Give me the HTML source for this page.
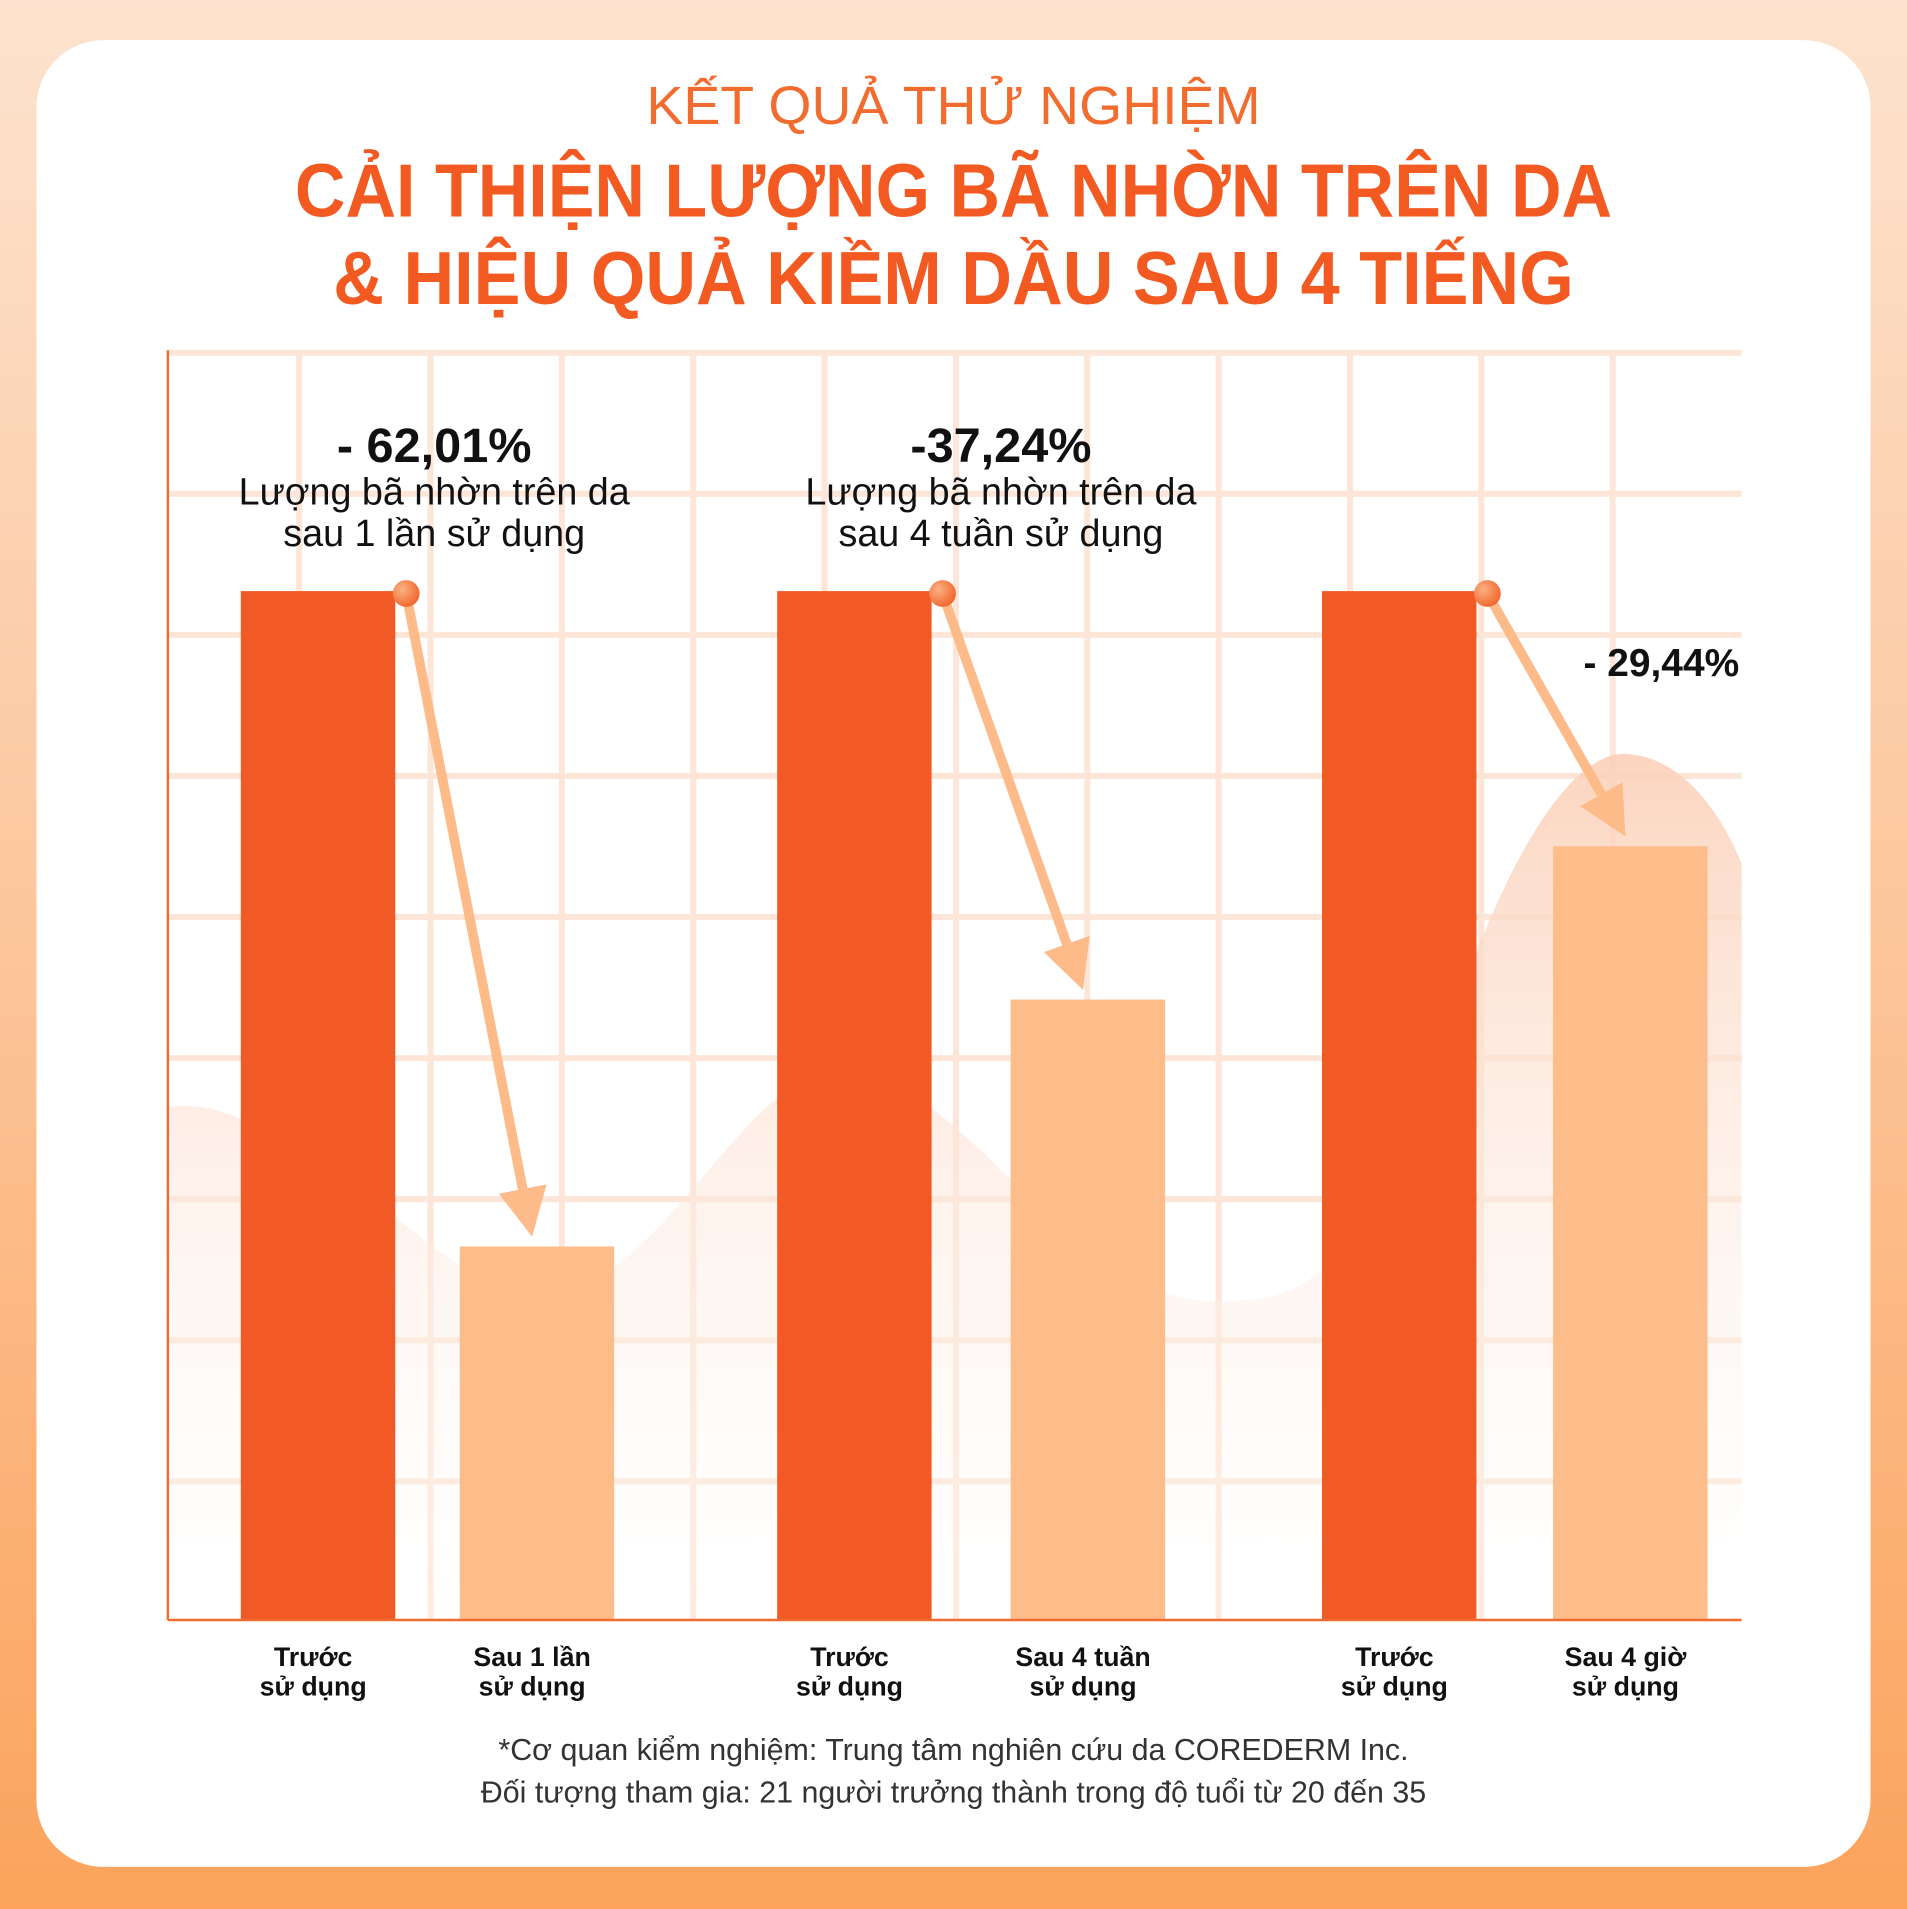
<!DOCTYPE html>
<html><head><meta charset="utf-8">
<style>
html,body{margin:0;padding:0;width:1907px;height:1909px;overflow:hidden;}
svg{display:block;font-family:"Liberation Sans","DejaVu Sans",sans-serif;}
</style></head>
<body>
<svg id="chart" width="1907" height="1909" viewBox="0 0 1568 1569.6" xmlns="http://www.w3.org/2000/svg">
<defs>
<linearGradient id="bg" x1="0" y1="0" x2="0" y2="1">
<stop offset="0" stop-color="#fde3cf"/><stop offset="0.5" stop-color="#fcc59a"/><stop offset="1" stop-color="#fba35c"/>
</linearGradient>
<linearGradient id="wave" x1="0" y1="0" x2="0" y2="1">
<stop offset="0" stop-color="#fbd0b8" stop-opacity="0.9"/><stop offset="1" stop-color="#ffffff" stop-opacity="0.2"/>
</linearGradient>
<radialGradient id="dot" cx="0.35" cy="0.35" r="0.7">
<stop offset="0" stop-color="#fbb184"/><stop offset="1" stop-color="#f1652c"/>
</radialGradient>
</defs>
<rect x="0" y="0" width="1568" height="1570" fill="url(#bg)"/>
<rect x="30" y="33" width="1508" height="1502" rx="55" fill="#ffffff"/>

<text x="784" y="102" text-anchor="middle" font-size="44" fill="#f26b2f" textLength="505" lengthAdjust="spacingAndGlyphs">KẾT QUẢ THỬ NGHIỆM</text>
<text x="784" y="178" text-anchor="middle" font-size="62" font-weight="bold" fill="#f25a22" textLength="1083" lengthAdjust="spacingAndGlyphs">CẢI THIỆN LƯỢNG BÃ NHỜN TRÊN DA</text>
<text x="784" y="250" text-anchor="middle" font-size="62" font-weight="bold" fill="#f25a22" textLength="1020" lengthAdjust="spacingAndGlyphs">&amp; HIỆU QUẢ KIỀM DẦU SAU 4 TIẾNG</text>

<g id="grid"></g>
<path d="M138,910 C190,905 210,930 250,950 C330,990 390,1080 470,1060 C560,1030 620,870 700,880 C800,895 880,1070 1000,1070 C1080,1070 1120,1050 1200,820 C1250,680 1300,615 1340,620 C1390,625 1420,680 1432,710 L1432,1332 L138,1332 Z" fill="url(#wave)"/>
<g id="bars"></g>
<g id="arrows"></g>
<line x1="138" y1="288" x2="138" y2="1332" stroke="#f26b2f" stroke-width="2"/>
<line x1="138" y1="1332" x2="1432" y2="1332" stroke="#f26b2f" stroke-width="2"/>
<g id="labels"></g>

<text x="357" y="380" text-anchor="middle" font-size="40" font-weight="bold" fill="#111">- 62,01%</text>
<text x="357" y="415" text-anchor="middle" font-size="31" fill="#111">Lượng bã nhờn trên da</text>
<text x="357" y="449" text-anchor="middle" font-size="31" fill="#111">sau 1 lần sử dụng</text>
<text x="823" y="380" text-anchor="middle" font-size="40" font-weight="bold" fill="#111">-37,24%</text>
<text x="823" y="415" text-anchor="middle" font-size="31" fill="#111">Lượng bã nhờn trên da</text>
<text x="823" y="449" text-anchor="middle" font-size="31" fill="#111">sau 4 tuần sử dụng</text>
<text x="1366" y="556" text-anchor="middle" font-size="32" font-weight="bold" fill="#111">- 29,44%</text>

<text x="784" y="1447" text-anchor="middle" font-size="25" fill="#333">*Cơ quan kiểm nghiệm: Trung tâm nghiên cứu da COREDERM Inc.</text>
<text x="784" y="1482" text-anchor="middle" font-size="25" fill="#333">Đối tượng tham gia: 21 người trưởng thành trong độ tuổi từ 20 đến 35</text>
</svg>
<script>
const categories = ["Trước|sử dụng","Sau 1 lần|sử dụng","Trước|sử dụng","Sau 4 tuần|sử dụng","Trước|sử dụng","Sau 4 giờ|sử dụng"];
const values = [100, 36.3, 100, 60.3, 100, 75.2];
const NS = "http://www.w3.org/2000/svg";
const plotBottom = 1332, unit = 8.46;
const barLeft = [198, 378, 639, 831, 1087, 1277];
const barW = 127;
function y(v){ return plotBottom - v*unit; }
function mk(tag, attrs, parent){ const e=document.createElementNS(NS,tag); for(const k in attrs) e.setAttribute(k,attrs[k]); parent.appendChild(e); return e; }

const grid = document.getElementById('grid');
for(let i=0;i<9;i++){
  const gy = 290 + i*116;
  const l = mk('line',{x1:138,x2:1432,y1:gy,y2:gy,stroke:'#fde6d8','stroke-width':5},grid);
  
  
}
for(let i=1;i<12;i++){
  const gx = 138 + i*108;
  const l = mk('line',{x1:gx,x2:gx,y1:288,y2:1332,stroke:'#fde6d8','stroke-width':5},grid);
  
  
}

const bars = document.getElementById('bars');
const labels = document.getElementById('labels');
values.forEach((v,i)=>{
  const r = mk('rect',{x:barLeft[i],y:y(v),width:barW,height:plotBottom-y(v),fill:(i%2===0)?'#f15a24':'#fdbd8b'},bars);
  
  
  const parts = categories[i].split('|');
  const cx = barLeft[i]+barW/2 - 4;
  parts.forEach((p,j)=>{
    const t = mk('text',{x:cx,y:1370+j*24,'text-anchor':'middle','font-size':22,fill:'#111','font-weight':'bold'},labels);
    t.textContent = p;
    
    
  });
});

const arrows = document.getElementById('arrows');
for(let k=0;k<3;k++){
  const a = k*2, b = k*2+1;
  const x1 = barLeft[a]+barW+9, y1 = y(values[a])+2;
  const x2 = barLeft[b]+barW/2 - 4, y2 = y(values[b]) - 8;
  const dx=x2-x1, dy=y2-y1, len=Math.hypot(dx,dy), ux=dx/len, uy=dy/len;
  const hx = x2-ux*40, hy = y2-uy*40;
  const ln = mk('line',{x1:x1,y1:y1,x2:hx,y2:hy,stroke:'#fdbb8a','stroke-width':8},arrows);
  
  
  const px=-uy, py=ux;
  const hd = mk('polygon',{points:`${x2},${y2} ${hx+px*20},${hy+py*20} ${hx-px*20},${hy-py*20}`,fill:'#fdbb8a'},arrows);
  
  
  const c = mk('circle',{cx:x1,cy:y1,r:11,fill:'url(#dot)'},arrows);
  
  
}
</script>
</body></html>
